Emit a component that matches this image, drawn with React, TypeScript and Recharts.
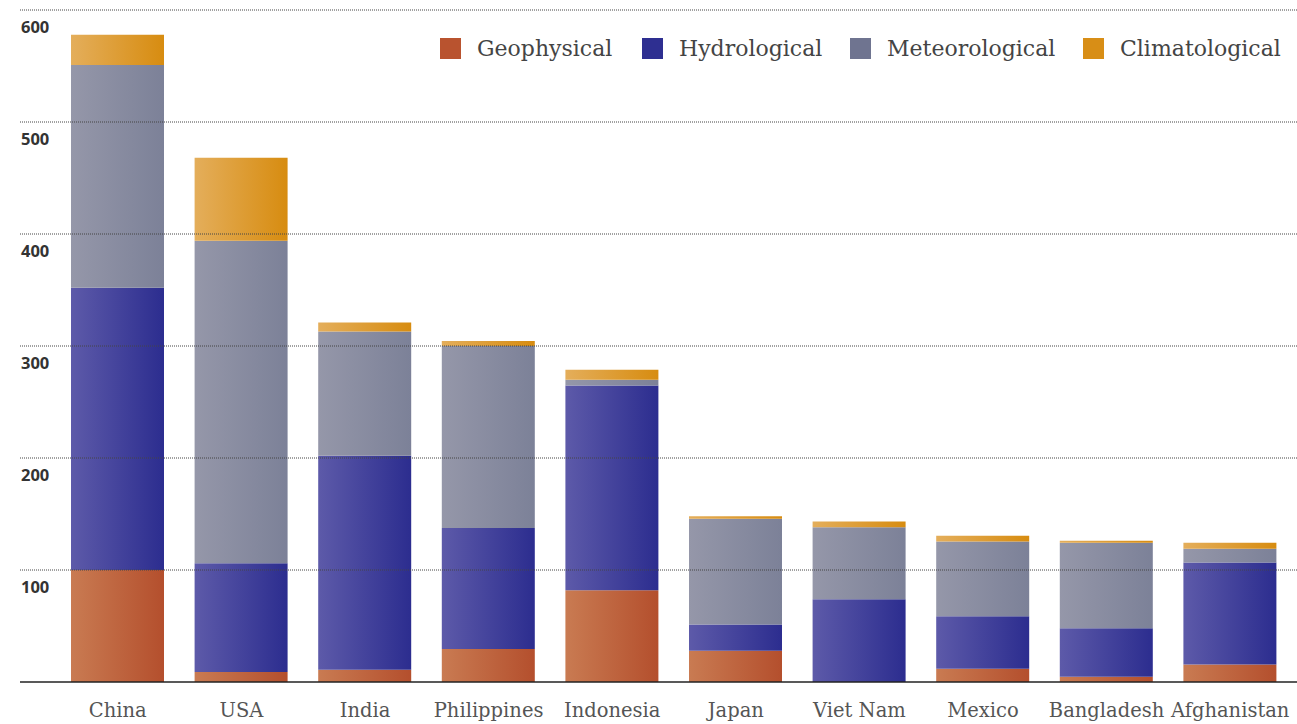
import React from 'react';
import { BarChart, Bar, XAxis, YAxis, ReferenceLine } from 'recharts';

const categories = ['China', 'USA', 'India', 'Philippines', 'Indonesia', 'Japan', 'Viet Nam', 'Mexico', 'Bangladesh', 'Afghanistan'];
const geophysical = [100, 9, 11, 29.5, 82, 27.9, 0, 11.9, 4.7, 15.7];
const hydrological = [252, 97, 191, 108, 182.8, 23.5, 73.8, 46.7, 43.2, 91.1];
const meteorological = [199, 288, 111, 162.5, 5.1, 94.4, 64.3, 66.9, 76.5, 12.2];
const climatological = [27, 74, 8, 4.5, 8.9, 2.1, 5.1, 5.1, 1.8, 5.4];
const yTicks = [0, 100, 200, 300, 400, 500, 600];
const seriesNames = ['Geophysical', 'Hydrological', 'Meteorological', 'Climatological'];

const data = categories.map((c, i) => ({
  name: c,
  geophysical: geophysical[i],
  hydrological: hydrological[i],
  meteorological: meteorological[i],
  climatological: climatological[i],
}));

const gradients = [
  { id: 'gGeo', from: '#c97b52', to: '#b44f2d', swatch: '#b9532f', key: 'geophysical' },
  { id: 'gHyd', from: '#5d5aa9', to: '#2c2d8f', swatch: '#2e2f91', key: 'hydrological' },
  { id: 'gMet', from: '#9597a9', to: '#7c8198', swatch: '#6f7490', key: 'meteorological' },
  { id: 'gCli', from: '#e4ae5b', to: '#d78c10', swatch: '#d88e16', key: 'climatological' },
];

const makeTickLabel = (value: number) => (props: any) => {
  const vb = props.viewBox || {};
  return (
    <text x={(vb.x ?? 20) + 1} y={(vb.y ?? 0) + 23} fill="#333" fontFamily="Open Sans" fontWeight={700} fontSize={16.5} textAnchor="start">
      {value}
    </text>
  );
};

const XTick = (props: any) => {
  const { x, payload } = props;
  return (
    <text x={x} y={717} fill="#555" fontFamily="DejaVu Serif" fontSize={19.5} textAnchor="middle">
      {payload.value}
    </text>
  );
};

const legendPos = [440, 642, 850, 1083];

export default function App() {
  return (
    <div style={{ position: 'absolute', left: 0, top: 0, width: 1297, height: 724, background: '#fff' }}>
      <BarChart
        width={1297}
        height={724}
        data={data}
        margin={{ top: 10, right: 0, bottom: 0, left: 20 }}
        barSize={93}
      >
        <defs>
          {gradients.map((g) => (
            <linearGradient key={g.id} id={g.id} x1="0" y1="0" x2="1" y2="0">
              <stop offset="0%" stopColor={g.from} />
              <stop offset="100%" stopColor={g.to} />
            </linearGradient>
          ))}
        </defs>
        <XAxis
          dataKey="name"
          height={42}
          padding={{ left: 36, right: 5 }}
          axisLine={{ stroke: '#222', strokeWidth: 1.5 }}
          tickLine={false}
          tick={<XTick />}
          interval={0}
        />
        <YAxis hide width={0} domain={[0, 600]} ticks={yTicks} />
        {gradients.map((g) => (
          <Bar key={g.key} dataKey={g.key} stackId="a" fill={`url(#${g.id})`} isAnimationActive={false} />
        ))}
        {yTicks.slice(1).map((t) => (
          <ReferenceLine key={t} y={t} stroke="#444" strokeDasharray="1 1" strokeWidth={1} label={makeTickLabel(t)} />
        ))}
      </BarChart>
      {seriesNames.map((n, i) => (
        <div
          key={n}
          style={{
            position: 'absolute',
            left: legendPos[i],
            top: 36,
            display: 'flex',
            alignItems: 'center',
            fontFamily: 'DejaVu Serif',
            fontSize: 22,
            color: '#444',
            whiteSpace: 'nowrap',
          }}
        >
          <span style={{ display: 'inline-block', width: 21, height: 21, background: gradients[i].swatch, marginRight: 16 }} />
          <span>{n}</span>
        </div>
      ))}
    </div>
  );
}
